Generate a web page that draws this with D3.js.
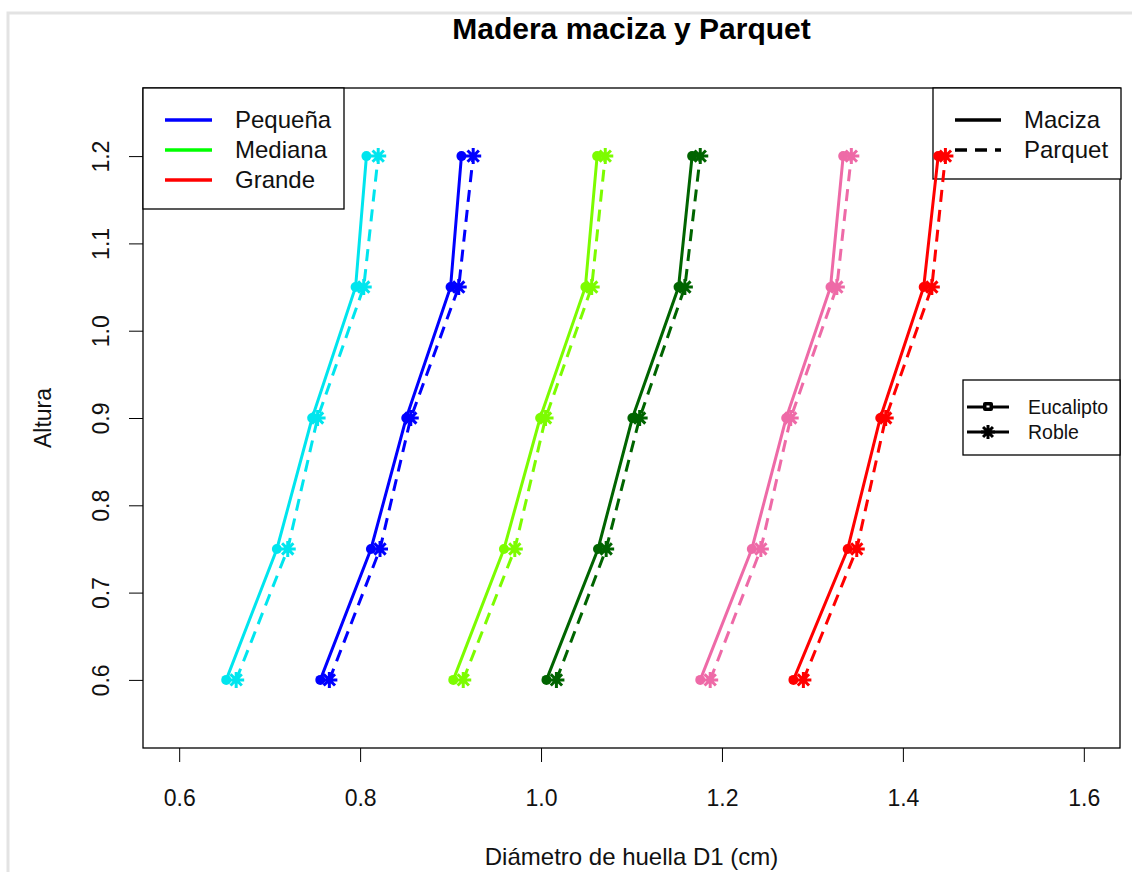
<!DOCTYPE html>
<html>
<head>
<meta charset="utf-8">
<script src="https://cdn.jsdelivr.net/npm/d3@7"></script>
<style>
  html, body { margin: 0; padding: 0; background: #fff; }
  svg { display: block; font-family: "Liberation Sans", Arial, sans-serif; }
</style>
</head>
<body>
<svg id="chart" width="1132" height="872"></svg>
<script>
// Alturas de caída (eje Y)
const alturas = [0.6, 0.75, 0.9, 1.05, 1.2];

// Diámetro de huella D1 (cm) — madera maciza (línea continua, punto)
const macizaCian   = [0.652, 0.708, 0.747, 0.795, 0.807];
const macizaAzul   = [0.756, 0.812, 0.851, 0.900, 0.912];
const macizaVerde  = [0.903, 0.959, 0.999, 1.049, 1.062];
const macizaVerdeO = [1.006, 1.063, 1.101, 1.152, 1.167];
const macizaRosa   = [1.176, 1.233, 1.271, 1.320, 1.334];
const macizaRojo   = [1.279, 1.339, 1.375, 1.423, 1.439];

// Diámetro de huella D1 (cm) — parquet (línea discontinua, asterisco)
const parquetCian   = [0.663, 0.720, 0.753, 0.804, 0.820];
const parquetAzul   = [0.766, 0.822, 0.856, 0.909, 0.925];
const parquetVerde  = [0.914, 0.971, 1.005, 1.056, 1.071];
const parquetVerdeO = [1.017, 1.072, 1.109, 1.159, 1.176];
const parquetRosa   = [1.187, 1.243, 1.276, 1.327, 1.343];
const parquetRojo   = [1.290, 1.349, 1.381, 1.432, 1.447];

const xTicks = [0.6, 0.8, 1.0, 1.2, 1.4, 1.6];
const yTicks = [0.6, 0.7, 0.8, 0.9, 1.0, 1.1, 1.2];

const tamanos = ["Pequeña", "Mediana", "Grande"];
const tamanoColores = ["#0000FF", "#00FF00", "#FF0000"];
const tipos = ["Maciza", "Parquet"];
const maderas = ["Eucalipto", "Roble"];

const series = [
  { valores: macizaCian,    color: "#00E5EE", tipo: "Maciza" },
  { valores: parquetCian,   color: "#00E5EE", tipo: "Parquet" },
  { valores: macizaAzul,    color: "#0000FF", tipo: "Maciza" },
  { valores: parquetAzul,   color: "#0000FF", tipo: "Parquet" },
  { valores: macizaVerde,   color: "#7CFC00", tipo: "Maciza" },
  { valores: parquetVerde,  color: "#7CFC00", tipo: "Parquet" },
  { valores: macizaVerdeO,  color: "#006400", tipo: "Maciza" },
  { valores: parquetVerdeO, color: "#006400", tipo: "Parquet" },
  { valores: macizaRosa,    color: "#EE6AA7", tipo: "Maciza" },
  { valores: parquetRosa,   color: "#EE6AA7", tipo: "Parquet" },
  { valores: macizaRojo,    color: "#FF0000", tipo: "Maciza" },
  { valores: parquetRojo,   color: "#FF0000", tipo: "Parquet" }
];

const svg = d3.select("#chart");
const plot = { left: 143, right: 1120, top: 88, bottom: 748 };

const x = d3.scaleLinear().domain([0.56, 1.64]).range([plot.left, plot.right]);
const y = d3.scaleLinear().domain([0.522, 1.278]).range([plot.bottom, plot.top]);

// Marco exterior gris
svg.append("rect")
  .attr("x", 8).attr("y", 13).attr("width", 1140).attr("height", 880)
  .attr("fill", "none").attr("stroke", "#e3e3e3").attr("stroke-width", 3);

// Título
svg.append("text")
  .attr("x", (plot.left + plot.right) / 2).attr("y", 39)
  .attr("text-anchor", "middle")
  .attr("font-size", 30).attr("font-weight", "bold")
  .text("Madera maciza y Parquet");

// Ejes
const xAxis = svg.append("g")
  .attr("transform", `translate(0,${plot.bottom})`)
  .call(d3.axisBottom(x).tickValues(xTicks).tickFormat(d3.format(".1f")).tickSize(14).tickPadding(28));
xAxis.select(".domain").remove();
xAxis.selectAll("line").attr("stroke", "#000");
xAxis.selectAll("text").attr("font-size", 23).attr("fill", "#111").attr("font-family", "Liberation Sans, Arial, sans-serif");

const yAxis = svg.append("g")
  .attr("transform", `translate(${plot.left},0)`)
  .call(d3.axisLeft(y).tickValues(yTicks).tickFormat(d3.format(".1f")).tickSize(14));
yAxis.select(".domain").remove();
yAxis.selectAll("line").attr("stroke", "#000");
yAxis.selectAll("text")
  .attr("font-size", 23).attr("fill", "#111").attr("font-family", "Liberation Sans, Arial, sans-serif")
  .attr("x", null).attr("dy", null)
  .attr("text-anchor", "middle")
  .attr("transform", "translate(-34,0) rotate(-90)");

// Caja del gráfico
svg.append("rect")
  .attr("x", plot.left).attr("y", plot.top)
  .attr("width", plot.right - plot.left).attr("height", plot.bottom - plot.top)
  .attr("fill", "none").attr("stroke", "#000").attr("stroke-width", 1.3);

// Títulos de los ejes
svg.append("text")
  .attr("x", (plot.left + plot.right) / 2).attr("y", 865)
  .attr("text-anchor", "middle").attr("font-size", 24).attr("fill", "#111")
  .text("Diámetro de huella D1 (cm)");
svg.append("text")
  .attr("transform", `translate(51,${(plot.top + plot.bottom) / 2}) rotate(-90)`)
  .attr("text-anchor", "middle").attr("font-size", 23).attr("fill", "#111")
  .text("Altura");

// Símbolo asterisco (+ y x superpuestos)
function asterisco(g, cx, cy, r, color) {
  const d = r * Math.SQRT1_2;
  const p = `M${cx - r},${cy}L${cx + r},${cy}M${cx},${cy - r}L${cx},${cy + r}` +
            `M${cx - d},${cy - d}L${cx + d},${cy + d}M${cx - d},${cy + d}L${cx + d},${cy - d}`;
  g.append("path").attr("d", p).attr("stroke", color).attr("stroke-width", 3)
    .attr("fill", "none").attr("stroke-linecap", "butt");
}

// Leyenda de tamaños
const ley1 = svg.append("g");
ley1.append("rect").attr("x", plot.left).attr("y", plot.top).attr("width", 201).attr("height", 121)
  .attr("fill", "#fff").attr("stroke", "#000").attr("stroke-width", 1.3);
tamanos.forEach((t, i) => {
  const yy = 120 + i * 30;
  ley1.append("line").attr("x1", 165).attr("x2", 212).attr("y1", yy).attr("y2", yy)
    .attr("stroke", tamanoColores[i]).attr("stroke-width", 3.5);
  ley1.append("text").attr("x", 235).attr("y", yy + 8).attr("font-size", 24).attr("fill", "#111").text(t);
});

// Leyenda de tipo de suelo
const ley2 = svg.append("g");
ley2.append("rect").attr("x", 933).attr("y", plot.top).attr("width", plot.right - 933 + 1).attr("height", 91)
  .attr("fill", "#fff").attr("stroke", "#000").attr("stroke-width", 1.3);
tipos.forEach((t, i) => {
  const yy = 120 + i * 30;
  ley2.append("line").attr("x1", 955).attr("x2", 1001).attr("y1", yy).attr("y2", yy)
    .attr("stroke", "#000").attr("stroke-width", 3.5)
    .attr("stroke-dasharray", i === 1 ? "12,8" : null);
  ley2.append("text").attr("x", 1024).attr("y", yy + 8).attr("font-size", 24).attr("fill", "#111").text(t);
});

// Series: línea + marcadores
const linea = d3.line().x(d => x(d[0])).y(d => y(d[1]));
const capa = svg.append("g");

series.forEach(s => {
  const pts = s.valores.map((v, i) => [v, alturas[i]]);
  capa.append("path")
    .attr("d", linea(pts))
    .attr("fill", "none")
    .attr("stroke", s.color)
    .attr("stroke-width", 3)
    .attr("stroke-dasharray", s.tipo === "Parquet" ? "12,8" : null);
  pts.forEach(p => {
    if (s.tipo === "Maciza") {
      capa.append("circle").attr("cx", x(p[0])).attr("cy", y(p[1])).attr("r", 5).attr("fill", s.color);
    } else {
      asterisco(capa, x(p[0]), y(p[1]), 8, s.color);
    }
  });
});

// Leyenda de madera
const ley3 = svg.append("g");
ley3.append("rect").attr("x", 963).attr("y", 380).attr("width", 157).attr("height", 75)
  .attr("fill", "#fff").attr("stroke", "#000").attr("stroke-width", 1.3);
maderas.forEach((m, i) => {
  const yy = 407 + i * 25;
  ley3.append("line").attr("x1", 967).attr("x2", 1009).attr("y1", yy).attr("y2", yy)
    .attr("stroke", "#000").attr("stroke-width", 3);
  if (i === 0) {
    ley3.append("rect").attr("x", 983).attr("y", yy - 5).attr("width", 10).attr("height", 9).attr("rx", 2).attr("fill", "#000");
    ley3.append("rect").attr("x", 986.5).attr("y", yy - 1.5).attr("width", 3).attr("height", 2).attr("fill", "#fff");
  } else {
    asterisco(ley3, 988, yy, 7, "#000");
  }
  ley3.append("text").attr("x", 1028).attr("y", yy + 7).attr("font-size", 19.5).attr("fill", "#111").text(m);
});
</script>
</body>
</html>
